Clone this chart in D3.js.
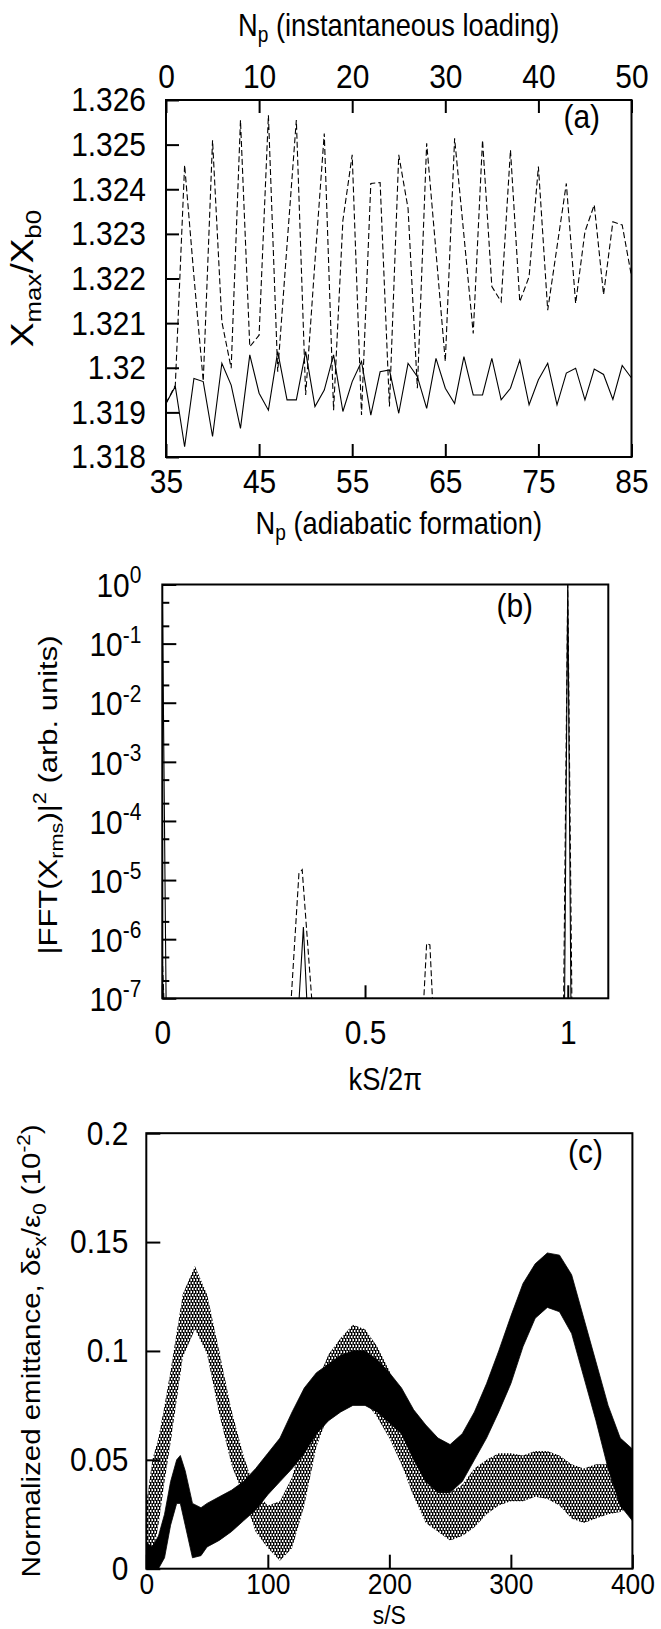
<!DOCTYPE html>
<html>
<head>
<meta charset="utf-8">
<script src="https://cdn.jsdelivr.net/npm/d3@7/dist/d3.min.js"></script>
<style>
  body { margin: 0; background: #fff; }
  svg { display: block; }
  text { font-family: "Liberation Sans", Arial, Helvetica, sans-serif; fill: #000; }
</style>
</head>
<body>
<div id="chart"></div>
<script>
// ---- panel (a): Xmax/Xb0 vs number of periods ----
var aTopX = [0,1,2,3,4,5,6,7,8,9,10,11,12,13,14,15,16,17,18,19,20,21,22,23,24,25,26,27,28,29,30,31,32,33,34,35,36,37,38,39,40,41,42,43,44,45,46,47,48,49,50];
var aBotX = [35,36,37,38,39,40,41,42,43,44,45,46,47,48,49,50,51,52,53,54,55,56,57,58,59,60,61,62,63,64,65,66,67,68,69,70,71,72,73,74,75,76,77,78,79,80,81,82,83,84,85];
// dashed: instantaneous loading (top axis)
var aInstant = [1.3192,1.31961,1.32454,1.32205,1.31970,1.32510,1.32103,1.31999,1.32555,1.32047,
  1.32073,1.32566,1.31991,1.32275,1.32555,1.31939,1.32238,1.32525,1.31905,1.32330,
  1.32477,1.31894,1.32413,1.32415,1.31913,1.32477,1.32357,1.31954,1.32503,1.32260,
  1.32014,1.32514,1.32297,1.32077,1.32510,1.32182,1.32148,1.32488,1.32148,1.32204,
  1.32451,1.32129,1.32271,1.32413,1.32144,1.32305,1.32365,1.32164,1.32327,1.32320,1.32205];
// solid: adiabatic formation (bottom axis)
var aAdiabatic = [1.31920,1.31958,1.31823,1.31976,1.31969,1.31846,1.32010,1.31961,1.31864,1.32029,
  1.31943,1.31905,1.32036,1.31928,1.31928,1.32036,1.31913,1.31950,1.32029,1.31902,
  1.31969,1.32014,1.31894,1.31991,1.31995,1.31898,1.32010,1.31980,1.31909,1.32021,
  1.31954,1.31920,1.32025,1.31939,1.31939,1.32021,1.31928,1.31954,1.32017,1.31917,
  1.31973,1.32010,1.31917,1.31988,1.31999,1.31928,1.31997,1.31985,1.31929,1.32005,1.31977];
var aTopTicks = [0,10,20,30,40,50];
var aBotTicks = [35,45,55,65,75,85];
var aYTicks = [1.318,1.319,1.32,1.321,1.322,1.323,1.324,1.325,1.326];
var aYLabels = ['1.318','1.319','1.32','1.321','1.322','1.323','1.324','1.325','1.326'];

// ---- panel (b): FFT spectrum ----
var bSolidK = [0,0.012,0.32,0.348,0.37,0.99,1.0,1.01,1.1];
var bSolidP = [1,1e-9,1e-9,1.6e-6,1e-9,1e-9,1,1e-9,1e-9];
var bDashK = [0,0.015,0.30,0.337,0.345,0.39,0.63,0.652,0.66,0.68,0.987,1.0,1.013,1.1];
var bDashP = [5e-7,1e-9,1e-9,1.3e-5,1.5e-5,1e-9,1e-9,8.5e-7,8e-7,1e-9,1e-9,1,1e-9,1e-9];
var bXTicks = [0,0.5,1];
var bXLabels = ['0','0.5','1'];
var bYTicks = [1e-7,1e-6,1e-5,1e-4,1e-3,1e-2,1e-1,1];
var bYExp = ['-7','-6','-5','-4','-3','-2','-1','0'];
var bYMinor = [2e-7,5e-7,2e-6,5e-6,2e-5,5e-5,2e-4,5e-4,2e-3,5e-3,2e-2,5e-2,2e-1,5e-1];

// ---- panel (c): emittance growth, envelopes of the fast oscillation ----
var cSolidS = [0,5,10,15,20,25,28,32,38,45,50,60,70,80,90,100,110,120,130,140,150,160,170,180,190,200,210,220,230,240,250,260,270,280,290,300,310,320,330,340,350,360,370,380,390,400];
var cSolidHi = [0.012,0.01,0.015,0.025,0.04,0.05,0.052,0.045,0.03,0.028,0.03,0.033,0.036,0.04,0.046,0.053,0.06,0.072,0.083,0.09,0.094,0.098,0.1,0.1,0.096,0.09,0.083,0.073,0.066,0.06,0.057,0.062,0.072,0.085,0.1,0.116,0.131,0.14,0.145,0.144,0.135,0.115,0.095,0.075,0.06,0.055];
var cSolidLo = [0,0,0,0.005,0.02,0.03,0.03,0.02,0.005,0.006,0.01,0.013,0.017,0.022,0.027,0.034,0.04,0.046,0.053,0.062,0.068,0.072,0.075,0.075,0.072,0.067,0.062,0.05,0.04,0.035,0.035,0.04,0.05,0.06,0.072,0.085,0.102,0.115,0.12,0.118,0.108,0.088,0.068,0.046,0.029,0.022];
var cDashS = [0,5,10,15,20,30,40,50,60,70,80,90,100,110,120,130,140,150,160,170,180,190,200,210,220,230,240,250,260,270,280,290,300,310,320,330,340,350,360,370,380,390,400];
var cDashHi = [0.03,0.05,0.06,0.075,0.091,0.126,0.139,0.126,0.1,0.073,0.052,0.035,0.029,0.031,0.042,0.064,0.085,0.0985,0.106,0.112,0.11,0.102,0.091,0.075,0.06,0.046,0.0385,0.035,0.0385,0.046,0.05,0.053,0.053,0.052,0.054,0.054,0.052,0.048,0.046,0.048,0.048,0.05,0.052];
var cDashLo = [0,0.005,0.02,0.04,0.058,0.097,0.11,0.0985,0.071,0.048,0.033,0.017,0.0095,0.0037,0.0095,0.029,0.056,0.071,0.077,0.08,0.077,0.0695,0.06,0.048,0.033,0.021,0.017,0.013,0.015,0.019,0.025,0.029,0.031,0.031,0.033,0.032,0.029,0.023,0.021,0.023,0.025,0.026,0.029];
var cXTicks = [0,100,200,300,400];
var cYTicks = [0,0.05,0.1,0.15,0.2];
var cYLabels = ['0','0.05','0.1','0.15','0.2'];

const W = 661, H = 1629;
const R = 0.88;      // horizontal squeeze of the lettering
const RV = 0.85;     // squeeze across rotated titles
const FT = 34;       // tick label size
const FL = 31;       // axis title size

var svg = d3.select('#chart').append('svg').attr('width', W).attr('height', H);
var defs = svg.append('defs');

function clip(id, x0, x1, y0, y1) {
  defs.append('clipPath').attr('id', id).append('rect')
    .attr('x', x0).attr('y', y0).attr('width', x1 - x0).attr('height', y1 - y0);
}

// tidy an axis group: drop domain, style ticks and labels
function styleAxis(g, size) {
  g.select('.domain').remove();
  g.selectAll('line').attr('stroke', '#000').attr('stroke-width', 2);
  g.attr('font-family', null).attr('font-size', null);
  g.selectAll('text').attr('font-size', size).attr('fill', '#000')
    .attr('transform', `scale(${R},1)`);
  g.selectAll('text').each(function () {
    var t = d3.select(this);
    t.attr('x', +t.attr('x') / R);
  });
}

// text with sub/superscripts; parts: [str, 'sub'|'sup'|undefined]
function rich(sel, parts, size) {
  parts.forEach(function (p) {
    var ts = sel.append('tspan').text(p[0]);
    if (p[1] === 'sub') ts.attr('font-size', size * 0.7).attr('baseline-shift', -size * 0.22);
    if (p[1] === 'sup') ts.attr('font-size', size * 0.7).attr('baseline-shift', size * 0.42);
  });
}

function hTitle(x, y, parts, size, anchor) {
  var t = svg.append('text').attr('text-anchor', anchor || 'middle')
    .attr('font-size', size)
    .attr('transform', `translate(${x},${y}) scale(${R},1)`);
  rich(t, parts, size);
  return t;
}

function vTitle(x, y, parts, size) {
  var t = svg.append('text').attr('text-anchor', 'middle')
    .attr('font-size', size).attr('dy', '0.36em')
    .attr('transform', `translate(${x},${y}) rotate(-90) scale(1,${RV})`);
  rich(t, parts, size);
  return t;
}

function frame(x0, x1, y0, y1) {
  svg.append('rect').attr('x', x0).attr('y', y0).attr('width', x1 - x0).attr('height', y1 - y0)
    .attr('fill', 'none').attr('stroke', '#000').attr('stroke-width', 2);
}

// ================= panel (a) =================
var A = { x0: 166, x1: 631.5, y0: 100, y1: 457 };
var xTopA = d3.scaleLinear().domain([0, 50]).range([A.x0, A.x1]);
var xBotA = d3.scaleLinear().domain([35, 85]).range([A.x0, A.x1]);
var yA = d3.scaleLinear().domain([1.318, 1.326]).range([A.y1, A.y0]);
clip('clipA', A.x0, A.x1, A.y0, A.y1);

svg.append('g').attr('transform', `translate(0,${A.y0})`)
  .call(d3.axisTop(xTopA).tickValues(aTopTicks).tickSize(-13).tickPadding(12).tickFormat(d3.format('d')))
  .call(g => styleAxis(g, FT));
svg.append('g').attr('transform', `translate(0,${A.y1})`)
  .call(d3.axisBottom(xBotA).tickValues(aBotTicks).tickSize(-13).tickPadding(12).tickFormat(d3.format('d')))
  .call(g => styleAxis(g, FT));
svg.append('g').attr('transform', `translate(${A.x0},0)`)
  .call(d3.axisLeft(yA).tickValues(aYTicks).tickSize(-13).tickPadding(20).tickFormat((d, i) => aYLabels[i]))
  .call(g => styleAxis(g, FT));

var gA = svg.append('g').attr('clip-path', 'url(#clipA)');
gA.append('path')
  .datum(aTopX.map((x, i) => [x, aInstant[i]]))
  .attr('fill', 'none').attr('stroke', '#000').attr('stroke-width', 1.1)
  .attr('stroke-dasharray', '6,3')
  .attr('d', d3.line().x(d => xTopA(d[0])).y(d => yA(d[1])));
gA.append('path')
  .datum(aBotX.map((x, i) => [x, aAdiabatic[i]]))
  .attr('fill', 'none').attr('stroke', '#000').attr('stroke-width', 1.1)
  .attr('d', d3.line().x(d => xBotA(d[0])).y(d => yA(d[1])));
frame(A.x0, A.x1, A.y0, A.y1);

hTitle((A.x0 + A.x1) / 2, 36, [['N'], ['p', 'sub'], [' (instantaneous loading)']], FL);
hTitle((A.x0 + A.x1) / 2, 534, [['N'], ['p', 'sub'], [' (adiabatic formation)']], FL);
vTitle(22, (A.y0 + A.y1) / 2, [['X'], ['max', 'sub'], ['/X'], ['b0', 'sub']], 37);
hTitle(600, 128, [['(a)']], FT, 'end');

// ================= panel (b) =================
var B = { x0: 162.3, x1: 608.3, y0: 584.5, y1: 998.3 };
var xB = d3.scaleLinear().domain([0, 1.1]).range([B.x0, B.x1]);
var yB = d3.scaleLog().domain([1e-7, 1]).range([B.y1, B.y0]);
clip('clipB', B.x0, B.x1, B.y0, B.y1);

svg.append('g').attr('transform', `translate(0,${B.y1})`)
  .call(d3.axisBottom(xB).tickValues(bXTicks).tickSize(-13).tickPadding(22).tickFormat((d, i) => bXLabels[i]))
  .call(g => styleAxis(g, FT));
svg.append('g').attr('transform', `translate(${B.x0},0)`)
  .call(d3.axisLeft(yB).tickValues(bYMinor).tickSize(-7).tickFormat(''))
  .call(g => styleAxis(g, FT));
var bLeft = svg.append('g').attr('transform', `translate(${B.x0},0)`)
  .call(d3.axisLeft(yB).tickValues(bYTicks).tickSize(-14).tickPadding(21).tickFormat(''))
  .call(g => styleAxis(g, FT));
bLeft.selectAll('.tick text').attr('dy', '0.36em').attr('text-anchor', 'end')
  .each(function (d, i) {
    rich(d3.select(this), [['10'], [bYExp[i], 'sup']], FT);
  });

var gB = svg.append('g').attr('clip-path', 'url(#clipB)');
var lineB = d3.line().x(d => xB(d[0])).y(d => yB(d[1]));
gB.append('path')
  .datum(bDashK.map((k, i) => [k, bDashP[i]]))
  .attr('fill', 'none').attr('stroke', '#000').attr('stroke-width', 1.1)
  .attr('stroke-dasharray', '6,3').attr('d', lineB);
gB.append('path')
  .datum(bSolidK.map((k, i) => [k, bSolidP[i]]))
  .attr('fill', 'none').attr('stroke', '#000').attr('stroke-width', 1.1)
  .attr('d', lineB);
frame(B.x0, B.x1, B.y0, B.y1);

hTitle((B.x0 + B.x1) / 2, 1090, [['kS/2\u03c0']], FL);
vTitle(48, 795, [['|FFT(X'], ['rms', 'sub'], [')|'], ['2', 'sup'], [' (arb. units)']], 31);
hTitle(533, 617, [['(b)']], FT, 'end');

// ================= panel (c) =================
var C = { x0: 146.3, x1: 632.4, y0: 1133.2, y1: 1568.7 };
var xC = d3.scaleLinear().domain([0, 400]).range([C.x0, C.x1]);
var yC = d3.scaleLinear().domain([0, 0.2]).range([C.y1, C.y0]);
clip('clipC', C.x0, C.x1, C.y0, C.y1);

// dashed curve oscillates too fast to resolve: a vertical-dash texture
var pat = defs.append('pattern').attr('id', 'dashFill')
  .attr('width', 3).attr('height', 6).attr('patternUnits', 'userSpaceOnUse');
pat.append('rect').attr('x', 0).attr('y', 0).attr('width', 1.4).attr('height', 4).attr('fill', '#000');
pat.append('rect').attr('x', 1.5).attr('y', 3).attr('width', 1.4).attr('height', 4).attr('fill', '#000');
pat.append('rect').attr('x', 1.5).attr('y', -3).attr('width', 1.4).attr('height', 4).attr('fill', '#000');

svg.append('g').attr('transform', `translate(0,${C.y1})`)
  .call(d3.axisBottom(xC).tickValues(cXTicks).tickSize(-14).tickPadding(4).tickFormat(d3.format('d')))
  .call(g => styleAxis(g, 30));
svg.append('g').attr('transform', `translate(${C.x0},0)`)
  .call(d3.axisLeft(yC).tickValues(cYTicks).tickSize(-14).tickPadding(18).tickFormat((d, i) => cYLabels[i]))
  .call(g => styleAxis(g, FT));

var gC = svg.append('g').attr('clip-path', 'url(#clipC)');
gC.append('path')
  .datum(cDashS.map((s, i) => [s, cDashLo[i], cDashHi[i]]))
  .attr('fill', 'url(#dashFill)')
  .attr('d', d3.area().x(d => xC(d[0])).y0(d => yC(d[1])).y1(d => yC(d[2])));
gC.append('path')
  .datum(cSolidS.map((s, i) => [s, cSolidLo[i], cSolidHi[i]]))
  .attr('fill', '#000').attr('stroke', '#000').attr('stroke-width', 0.8)
  .attr('d', d3.area().x(d => xC(d[0])).y0(d => yC(d[1])).y1(d => yC(d[2])));
frame(C.x0, C.x1, C.y0, C.y1);

hTitle((C.x0 + C.x1) / 2, 1624, [['s/S']], 26);
vTitle(31, (C.y0 + C.y1) / 2, [['Normalized emittance, \u03b4\u03b5'], ['x', 'sub'], ['/\u03b5'], ['0', 'sub'], [' (10'], ['-2', 'sup'], [')']], 29.5);
hTitle(603, 1163, [['(c)']], FT, 'end');
</script>
</body>
</html>
